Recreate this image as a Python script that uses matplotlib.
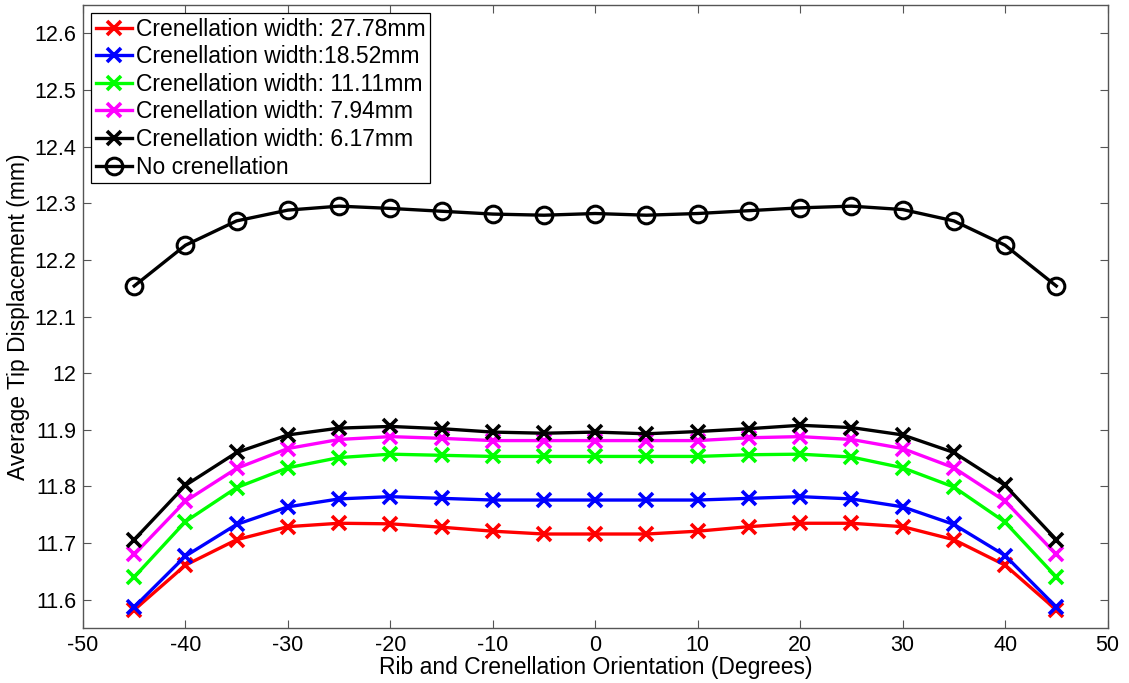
import numpy as np
import matplotlib.pyplot as plt

plt.rcParams['font.family'] = ['Liberation Sans', 'DejaVu Sans']
plt.rcParams['axes.unicode_minus'] = False

angle = [-45, -40, -35, -30, -25, -20, -15, -10, -5, 0, 5, 10, 15, 20, 25, 30, 35, 40, 45]

w_27_78 = [11.582, 11.661, 11.706, 11.729, 11.735, 11.734, 11.728, 11.721, 11.716, 11.716,
           11.716, 11.721, 11.729, 11.735, 11.735, 11.729, 11.706, 11.661, 11.582]
w_18_52 = [11.587, 11.677, 11.733, 11.764, 11.778, 11.782, 11.779, 11.776, 11.776, 11.776,
           11.776, 11.776, 11.779, 11.782, 11.778, 11.764, 11.733, 11.678, 11.587]
w_11_11 = [11.640, 11.738, 11.798, 11.833, 11.851, 11.857, 11.855, 11.853, 11.853, 11.853,
           11.853, 11.853, 11.856, 11.857, 11.852, 11.833, 11.799, 11.737, 11.640]
w_7_94 = [11.680, 11.774, 11.832, 11.867, 11.883, 11.888, 11.885, 11.881, 11.881, 11.881,
          11.881, 11.881, 11.886, 11.888, 11.883, 11.867, 11.833, 11.774, 11.680]
w_6_17 = [11.706, 11.802, 11.860, 11.891, 11.903, 11.906, 11.902, 11.896, 11.894, 11.896,
          11.893, 11.897, 11.902, 11.908, 11.904, 11.891, 11.860, 11.802, 11.706]
no_cren = [12.154, 12.226, 12.269, 12.288, 12.295, 12.291, 12.286, 12.281, 12.279, 12.282,
           12.279, 12.282, 12.287, 12.292, 12.295, 12.289, 12.269, 12.226, 12.154]

series = [
    (w_27_78, 'red', 'Crenellation width: 27.78mm'),
    (w_18_52, 'blue', 'Crenellation width:18.52mm'),
    (w_11_11, '#00ff00', 'Crenellation width: 11.11mm'),
    (w_7_94, 'magenta', 'Crenellation width: 7.94mm'),
    (w_6_17, 'black', 'Crenellation width: 6.17mm'),
]

fig = plt.figure(figsize=(11.29, 6.83), dpi=100)
ax = fig.add_axes([0.0735, 0.0805, 0.9075, 0.912])

for vals, col, lab in series:
    ax.plot(angle, vals, color=col, lw=2.4, marker='x', ms=10, mew=2.6, label=lab)
ax.plot(angle, no_cren, color='black', lw=2.4, marker='o', ms=12, mew=2.2,
        mfc='none', label='No crenellation')

ax.set_xlim(-50, 50)
ax.set_ylim(11.55, 12.65)
ax.set_xticks(np.arange(-50, 51, 10))
ax.set_yticks(np.arange(11.6, 12.61, 0.1))
ax.set_yticklabels(['11.6', '11.7', '11.8', '11.9', '12', '12.1', '12.2',
                    '12.3', '12.4', '12.5', '12.6'])
ax.tick_params(direction='in', top=True, right=True, length=6, width=0.8,
               labelsize=15.5, color='#555555', pad=5)
for s in ax.spines.values():
    s.set_color('#555555')
    s.set_linewidth(1)

ax.set_xlabel('Rib and Crenellation Orientation (Degrees)', fontsize=16.5, labelpad=0)
ax.set_ylabel('Average Tip Displacement (mm)', fontsize=16.5, labelpad=3)

leg = ax.legend(loc='upper left', fontsize=16.5, fancybox=False, framealpha=1,
                edgecolor='black', borderaxespad=0.35, handlelength=1.6,
                handletextpad=0.15, labelspacing=0.2, borderpad=0.2)
leg.get_frame().set_linewidth(0.9)

fig.savefig('out.png', dpi=100)
